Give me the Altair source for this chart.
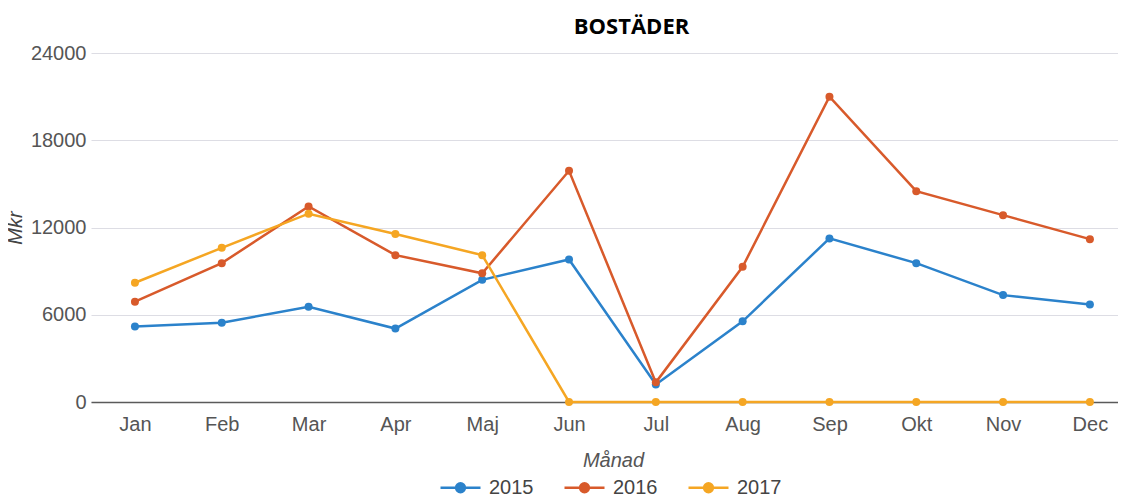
import altair as alt
import pandas as pd

months = ["Jan", "Feb", "Mar", "Apr", "Maj", "Jun", "Jul", "Aug", "Sep", "Okt", "Nov", "Dec"]
years = ["2015", "2016", "2017"]
v2015 = [5200, 5450, 6550, 5050, 8400, 9800, 1200, 5550, 11250, 9550, 7350, 6700]
v2016 = [6900, 9550, 13450, 10100, 8850, 15900, 1350, 9300, 21000, 14500, 12850, 11200]
v2017 = [8200, 10600, 12950, 11550, 10100, 0, 0, 0, 0, 0, 0, 0]
colors = ["#2b82cb", "#d85a2b", "#f5a623"]
y_ticks = [0, 6000, 12000, 18000, 24000]

rows = []
for yr, vals in zip(years, [v2015, v2016, v2017]):
    for m, v in zip(months, vals):
        rows.append({"Månad": m, "År": yr, "Mkr": v})
df = pd.DataFrame(rows)

W = 1027
H = 349
AX_FONT = "Liberation Sans"

x = alt.X("Månad:N", sort=months,
          scale=alt.Scale(type="point", padding=0.415, align=0.61),
          axis=alt.Axis(title="Månad", labelFontSize=20, labelFont=AX_FONT,
                        labelColor="#555555", labelPadding=12, labelAngle=0,
                        ticks=False, domain=True, domainColor="#5a5a5a", domainWidth=1.5,
                        grid=False, titleFont=AX_FONT, titleFontSize=20,
                        titleFontStyle="italic", titleFontWeight="normal",
                        titleColor="#555555", titleX=522, titleY=64,
                        titleBaseline="alphabetic", titleAlign="center"))
y = alt.Y("Mkr:Q",
          scale=alt.Scale(domain=[0, 24000], nice=False),
          axis=alt.Axis(title="Mkr", values=y_ticks, format="d", labelFontSize=20,
                        labelFont=AX_FONT, labelColor="#555555", labelPadding=5,
                        ticks=False, domain=False, grid=True, gridColor="#dddde4",
                        gridWidth=1, titleFont=AX_FONT, titleFontSize=20,
                        titleFontStyle="italic", titleFontWeight="normal",
                        titleColor="#444444", titleAngle=270, titleX=-76,
                        titleY=H / 2, titleAlign="center", titleBaseline="middle"))
color = alt.Color("År:N", scale=alt.Scale(domain=years, range=colors),
                  legend=alt.Legend(title=None, orient="none", direction="horizontal",
                                    legendX=348, legendY=413, padding=0,
                                    symbolType="M-1,0L1,0M-0.22,0a0.22,0.22 0 1,0 0.44,0a0.22,0.22 0 1,0 -0.44,0",
                                    symbolSize=1600, symbolStrokeWidth=2.5,
                                    labelFont=AX_FONT, labelFontSize=20,
                                    labelColor="#444444", labelOffset=7,
                                    columnPadding=25))

base = alt.Chart(df)
lines = base.mark_line(strokeWidth=2.5).encode(x=x, y=y, color=color)
points = base.mark_point(filled=True, size=64, opacity=1).encode(x=x, y=y, color=color)

chart = (lines + points).properties(
    width=W, height=H,
    title=alt.TitleParams("BOSTÄDER", font="Open Sans", fontWeight="bold",
                          fontSize=22, color="#000000", anchor="middle", dx=27,
                          offset=4),
    autosize=alt.AutoSizeParams(type="none"),
    padding={"left": 83, "top": 45, "right": 0, "bottom": 110},
).configure_view(stroke=None)

chart.save("out.html", embed_options={"renderer": "svg", "actions": False})
